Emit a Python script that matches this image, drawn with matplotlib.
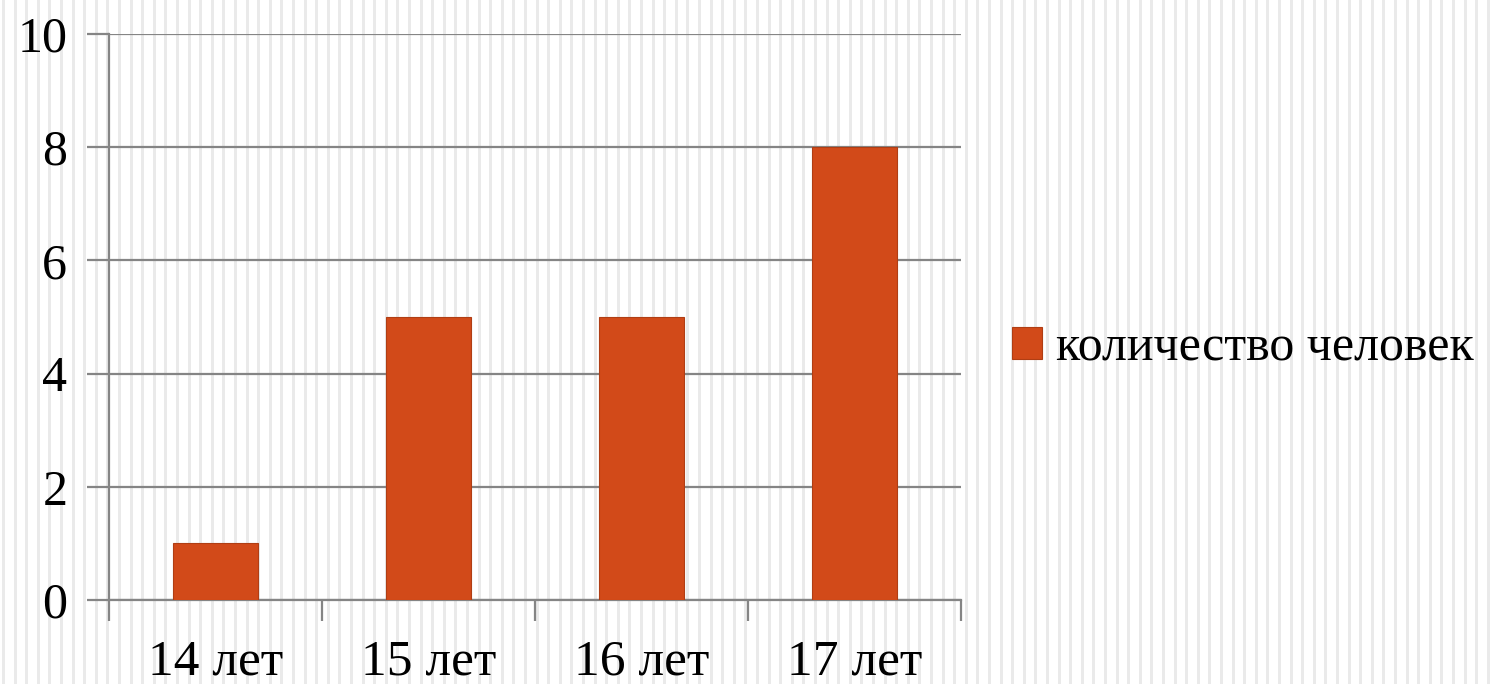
import matplotlib
matplotlib.use("Agg")
import matplotlib.pyplot as plt
import numpy as np

categories = ["14 лет", "15 лет", "16 лет", "17 лет"]
values = [1, 5, 5, 8]
series_name = "количество человек"
yticks = [0, 2, 4, 6, 8, 10]

W, H = 1497, 684
fig = plt.figure(figsize=(W / 100, H / 100), dpi=100)
fig.patch.set_facecolor("white")

# striped background in a full-figure axes behind everything
bg = fig.add_axes([0, 0, 1, 1], zorder=-10)
bg.set_xlim(0, W)
bg.set_ylim(0, H)
bg.axis("off")
period = 11.6
x = 2.0
while x < W:
    bg.axvspan(x, x + 3.0, color="#EAEAEA", lw=0)
    x += period

ax = fig.add_axes([109 / W, 1 - 600 / H, (961 - 109) / W, (600 - 34) / H], zorder=1)
ax.patch.set_alpha(0)

serif = "Liberation Serif"
pos = np.arange(len(categories))
ax.bar(pos, values, width=0.4, color="#D24A19", edgecolor="#B03E14", linewidth=0.8,
       zorder=3, label=series_name)

ax.set_xlim(-0.5, len(categories) - 0.5)
ax.set_ylim(0, 10)
ax.set_yticks(yticks)
ax.set_yticklabels([str(v) for v in yticks], fontfamily=serif, fontsize=36)
for y in yticks:
    ax.axhline(y, color="#858585", lw=1.6, zorder=1)

ax.set_xticks(np.arange(-0.5, len(categories), 1.0))
ax.set_xticklabels([])
ax.set_xticks(pos, minor=True)
ax.set_xticklabels(categories, minor=True, fontfamily=serif, fontsize=37)
ax.tick_params(axis="x", which="major", length=15, width=1.6, color="#858585", direction="out")
ax.tick_params(axis="x", which="minor", length=0, pad=28)
ax.tick_params(axis="y", length=16, width=1.6, color="#858585", pad=14)

for s in ["top", "right"]:
    ax.spines[s].set_visible(False)
ax.spines["left"].set_color("#858585")
ax.spines["left"].set_linewidth(1.6)
ax.spines["bottom"].set_color("#858585")
ax.spines["bottom"].set_linewidth(1.6)

leg = fig.legend(loc="center left", bbox_to_anchor=(1012 / W, 1 - 348 / H), frameon=False,
                 prop={"family": serif, "size": 36}, handlelength=0.6, handleheight=0.6,
                 handletextpad=0.27, borderaxespad=0, borderpad=0)

fig.savefig("out.png", dpi=100)
